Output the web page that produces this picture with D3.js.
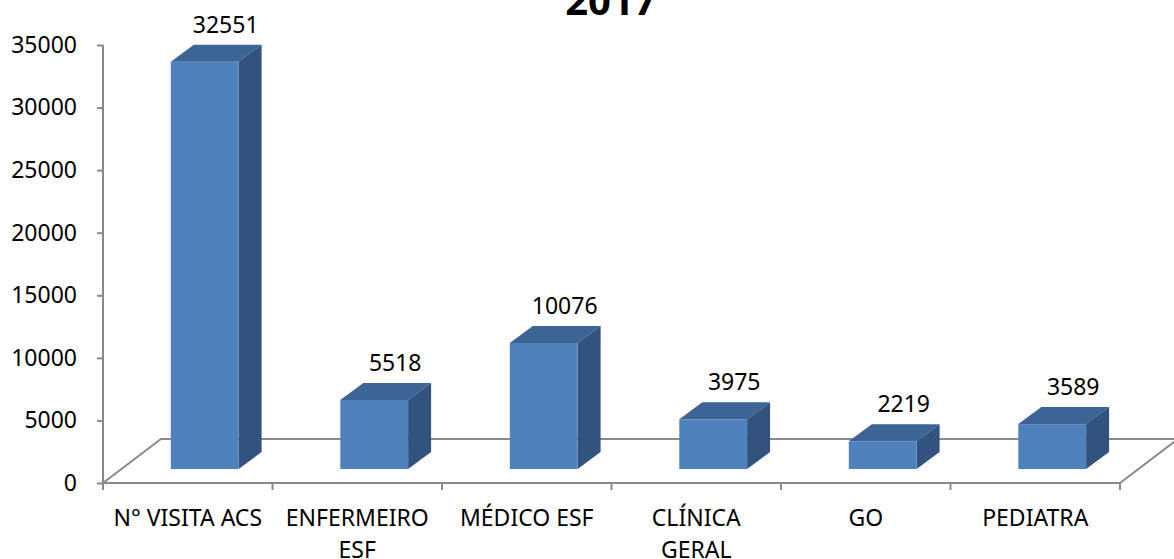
<!DOCTYPE html>
<html lang="pt">
<head>
  <meta charset="UTF-8">
  <title>2017</title>
  <script src="https://d3js.org/d3.v7.min.js"></script>
  <style>
    html, body { margin: 0; padding: 0; background: #fff; overflow: hidden; }
    svg { display: block; }
    text { font-family: "Noto Sans", "Open Sans", sans-serif; fill: #000; }
    .axis-line { stroke: #898989; stroke-width: 2px; fill: none; }
  </style>
</head>
<body>
  <svg id="chart" width="1174" height="559"></svg>
  <script>
  // data
  const title = "2017";
  const categories = ["N° VISITA ACS", "ENFERMEIRO\nESF", "MÉDICO ESF", "CLÍNICA\nGERAL", "GO", "PEDIATRA"];
  const values = [32551, 5518, 10076, 3975, 2219, 3589];
  const yTicks = [0, 5000, 10000, 15000, 20000, 25000, 30000, 35000];

  const svg = d3.select("#chart");
  const fs = 23;

  // plot frame (front floor edge = x axis)
  const x0 = 103, x1 = 1120, yBase = 483, yTop = 45;
  const floorDx = 58, floorDy = -44;   // depth of the floor
  const barDx = 23, barDy = -17;       // depth of each bar
  const barShiftY = -14;               // bars stand a bit back on the floor

  const x = d3.scaleBand().domain(d3.range(categories.length)).range([x0, x1]);
  const y = d3.scaleLinear().domain([0, 35000]).range([yBase, yTop]);
  const bw = x.bandwidth();
  const barW = bw * 0.4;

  // floor
  const floor = svg.append("g");
  floor.append("path").attr("class", "axis-line")
    .attr("d", `M${x0},${yBase} L${x0 + floorDx},${yBase + floorDy} L${x1 + floorDx},${yBase + floorDy} L${x1},${yBase}`);

  // y axis
  const yAxis = d3.axisLeft(y).tickValues(yTicks).tickSize(6).tickPadding(20).tickFormat(d3.format("d"));
  const ya = svg.append("g").attr("transform", `translate(${x0},0)`).call(yAxis);
  ya.select(".domain").attr("class", "axis-line").attr("d", `M0,${yTop}V${yBase}`);
  ya.selectAll(".tick line").attr("stroke", "#898989").attr("stroke-width", 2);
  ya.selectAll(".tick text").attr("font-size", fs).attr("font-family", "Noto Sans").attr("fill", "#000");

  // x axis
  const xa = svg.append("g").attr("transform", `translate(0,${yBase})`);
  xa.append("path").attr("class", "axis-line").attr("d", `M${x0},0H${x1}`);
  d3.range(categories.length + 1).forEach(i => {
    const tx = x0 + i * bw;
    xa.append("line").attr("x1", tx).attr("x2", tx).attr("y1", 0).attr("y2", 7)
      .attr("stroke", "#898989").attr("stroke-width", 2);
  });
  categories.forEach((c, i) => {
    const t = xa.append("text").attr("text-anchor", "middle").attr("font-size", fs)
      .attr("x", x(i) + bw / 2).attr("y", 43);
    c.split("\n").forEach((line, k) => {
      t.append("tspan").attr("x", x(i) + bw / 2).attr("dy", k === 0 ? 0 : 32).text(line);
    });
  });

  // 3D bars
  const bars = svg.append("g").selectAll("g").data(values).join("g");
  bars.each(function(v, i) {
    const g = d3.select(this);
    const lx = x(i) + barW, rx = lx + barW;
    const by = y(0) + barShiftY, ty = y(v) + barShiftY;
    g.append("path").attr("fill", "#3C6494")
      .attr("d", `M${lx},${ty} L${lx + barDx},${ty + barDy} L${rx + barDx},${ty + barDy} L${rx},${ty}Z`);
    g.append("path").attr("fill", "#32537D")
      .attr("d", `M${rx},${ty} L${rx + barDx},${ty + barDy} L${rx + barDx},${by + barDy} L${rx},${by}Z`);
    g.append("rect").attr("fill", "#4F81BD")
      .attr("x", lx).attr("y", ty).attr("width", barW).attr("height", by - ty);
    g.append("text").attr("text-anchor", "middle").attr("font-size", fs)
      .attr("x", lx + barW / 2 + barDx - 2).attr("y", ty + barDy - 12)
      .text(v);
  });

  // title (cut off at top in the original)
  svg.append("text").attr("x", 611).attr("y", 15).attr("text-anchor", "middle")
    .attr("font-size", 40).attr("font-weight", "bold").text(title);
  </script>
</body>
</html>
